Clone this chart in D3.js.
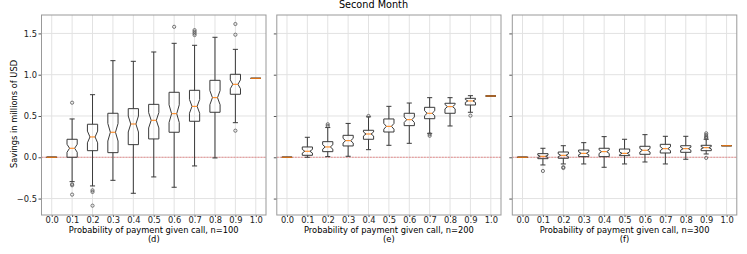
<!DOCTYPE html>
<html>
<head>
<meta charset="utf-8">
<script src="https://cdn.jsdelivr.net/npm/d3@7"></script>
<style>
  body { margin: 0; background: #fff; }
  svg { display: block; font-family: "DejaVu Sans", sans-serif; }
</style>
</head>
<body>
<div id="chart"></div>
<script>
/*---------- DATA ----------*/
// Categories (probability of payment given call)
const probs = ["0.0", "0.1", "0.2", "0.3", "0.4", "0.5", "0.6", "0.7", "0.8", "0.9", "1.0"];
const yTicks = [-0.5, 0.0, 0.5, 1.0, 1.5];

// Panel (d), n=100
const q1D = [0, 0.0, 0.08, 0.056, 0.153, 0.222, 0.303, 0.436, 0.545, 0.763, 0.956];
const medD = [0, 0.109, 0.246, 0.303, 0.403, 0.448, 0.528, 0.617, 0.722, 0.884, 0.956];
const q3D = [0, 0.218, 0.40, 0.533, 0.589, 0.641, 0.787, 0.811, 0.932, 1.005, 0.956];
const loD = [0, -0.295, -0.347, -0.279, -0.436, -0.238, -0.363, -0.105, -0.008, 0.419, 0.956];
const hiD = [0, 0.464, 0.758, 1.17, 1.162, 1.275, 1.38, 1.356, 1.453, 1.307, 0.956];
const outD = [[], [0.661, -0.327, -0.339, -0.452], [-0.40, -0.42, -0.586], [], [], [],
  [1.58], [1.54, 1.52, 1.50, 1.48], [], [1.614, 1.484, 0.322], []];

// Panel (e), n=200
const q1E = [0, 0.024, 0.068, 0.137, 0.218, 0.306, 0.383, 0.467, 0.533, 0.633, 0.742];
const medE = [0, 0.073, 0.125, 0.201, 0.282, 0.375, 0.455, 0.533, 0.613, 0.682, 0.742];
const q3E = [0, 0.125, 0.189, 0.266, 0.327, 0.464, 0.533, 0.605, 0.654, 0.714, 0.742];
const loE = [0, 0.0, 0.008, 0.012, 0.092, 0.145, 0.169, 0.29, 0.379, 0.545, 0.742];
const hiE = [0, 0.242, 0.36, 0.41, 0.49, 0.617, 0.657, 0.722, 0.722, 0.746, 0.742];
const outE = [[], [], [0.38, 0.40], [], [0.50], [], [], [0.28, 0.26], [], [0.504], []];

// Panel (f), n=300
const q1F = [0, -0.017, -0.012, 0.008, 0.008, 0.02, 0.036, 0.052, 0.06, 0.08, 0.14];
const medF = [0, 0.012, 0.024, 0.048, 0.068, 0.048, 0.085, 0.104, 0.104, 0.116, 0.14];
const q3F = [0, 0.044, 0.064, 0.088, 0.109, 0.1, 0.133, 0.157, 0.14, 0.145, 0.14];
const loF = [0, -0.093, -0.081, -0.081, -0.121, -0.081, -0.057, -0.081, -0.024, 0.04, 0.14];
const hiF = [0, 0.109, 0.14, 0.177, 0.25, 0.218, 0.274, 0.254, 0.254, 0.218, 0.14];
const outF = [[], [-0.166], [-0.12, -0.13], [], [], [], [], [], [],
  [0.29, 0.27, 0.25, 0.24, 0.23, -0.008], []];

const runs = 50; // simulation runs per box, used for the notch size

/*---------- SETUP ----------*/
const width = 747;
const height = 254;
const fontSize = "8.3px";

const panels = [
  { x0: 41.5, x1: 266, label: "Probability of payment given call, n=100", tag: "(d)",
    q1: q1D, med: medD, q3: q3D, lo: loD, hi: hiD, out: outD, yLabels: true },
  { x0: 276.8, x1: 501, label: "Probability of payment given call, n=200", tag: "(e)",
    q1: q1E, med: medE, q3: q3E, lo: loE, hi: hiE, out: outE, yLabels: false },
  { x0: 512.3, x1: 736.8, label: "Probability of payment given call, n=300", tag: "(f)",
    q1: q1F, med: medF, q3: q3F, lo: loF, hi: hiF, out: outF, yLabels: false },
];

const plotTop = 15;
const plotBottom = 215;

const svg = d3
  .select("#chart")
  .append("svg")
  .attr("width", width)
  .attr("height", height);

// Shared y scale
const y = d3.scaleLinear().domain([-0.699, 1.723]).range([plotBottom, plotTop]);

// Suptitle
svg
  .append("text")
  .attr("x", width / 2)
  .attr("y", 8)
  .attr("text-anchor", "middle")
  .attr("font-size", "9.7px")
  .text("Second Month");

// Y axis label
svg
  .append("text")
  .attr("transform", `translate(16.5, ${(plotTop + plotBottom) / 2 - 1}) rotate(-90)`)
  .attr("text-anchor", "middle")
  .attr("font-size", fontSize)
  .text("Savings in millions of USD");

/*---------- PLOTTING ----------*/
panels.forEach((p) => {
  const x = d3
    .scaleLinear()
    .domain([0.5, probs.length + 0.5])
    .range([p.x0, p.x1]);
  const step = x(2) - x(1);
  const boxW = step * 0.5;
  const capW = step * 0.25;

  const g = svg.append("g");

  // Grid lines
  g.selectAll("line.vgrid")
    .data(probs)
    .join("line")
    .attr("class", "vgrid")
    .attr("x1", (d, i) => x(i + 1))
    .attr("x2", (d, i) => x(i + 1))
    .attr("y1", plotTop)
    .attr("y2", plotBottom)
    .attr("stroke", "#e2e2e2")
    .attr("stroke-width", 1);

  g.selectAll("line.hgrid")
    .data(yTicks)
    .join("line")
    .attr("class", "hgrid")
    .attr("x1", p.x0)
    .attr("x2", p.x1)
    .attr("y1", (d) => y(d))
    .attr("y2", (d) => y(d))
    .attr("stroke", "#e2e2e2")
    .attr("stroke-width", 1);

  // Zero line
  g.append("line")
    .attr("x1", p.x0)
    .attr("x2", p.x1)
    .attr("y1", y(0))
    .attr("y2", y(0))
    .attr("stroke", "#e03030")
    .attr("stroke-width", 0.5)
    .attr("stroke-dasharray", "2,1");

  // Axes
  const xAxis = d3
    .axisBottom(x)
    .tickValues(d3.range(1, probs.length + 1))
    .tickFormat((d) => probs[d - 1])
    .tickSize(2)
    .tickSizeOuter(0);
  const xa = g
    .append("g")
    .attr("transform", `translate(0, ${plotBottom})`)
    .call(xAxis);
  xa.select(".domain").remove();
  xa.selectAll("line").attr("stroke", "#555");
  xa.selectAll("text")
    .attr("font-size", fontSize)
    .attr("font-family", "DejaVu Sans")
    .attr("fill", "#222")
    .attr("dy", null)
    .attr("y", 8.3);

  const yAxis = d3
    .axisLeft(y)
    .tickValues(yTicks)
    .tickFormat((d) => (p.yLabels ? d3.format(".1f")(d).replace("-", "\u2212") : ""))
    .tickSize(3)
    .tickSizeOuter(0);
  const ya = g
    .append("g")
    .attr("transform", `translate(${p.x0}, 0)`)
    .call(yAxis);
  ya.select(".domain").remove();
  ya.selectAll("line").attr("stroke", "#555");
  ya.selectAll("text")
    .attr("font-size", fontSize)
    .attr("font-family", "DejaVu Sans")
    .attr("fill", "#222")
    .attr("x", -4.5);

  // Boxes
  const boxes = probs.map((c, i) => {
    const iqr = p.q3[i] - p.q1[i];
    const nh = (1.57 * iqr) / Math.sqrt(runs);
    return {
      pos: i + 1,
      q1: p.q1[i],
      med: p.med[i],
      q3: p.q3[i],
      lo: p.lo[i],
      hi: p.hi[i],
      nlo: p.med[i] - nh,
      nhi: p.med[i] + nh,
      out: p.out[i],
    };
  });

  const bg = g
    .selectAll("g.box")
    .data(boxes)
    .join("g")
    .attr("class", "box");

  // whiskers
  bg.append("line")
    .attr("x1", (d) => x(d.pos))
    .attr("x2", (d) => x(d.pos))
    .attr("y1", (d) => y(d.q1))
    .attr("y2", (d) => y(d.lo))
    .attr("stroke", "#3a3a3a")
    .attr("stroke-width", 1);
  bg.append("line")
    .attr("x1", (d) => x(d.pos))
    .attr("x2", (d) => x(d.pos))
    .attr("y1", (d) => y(d.q3))
    .attr("y2", (d) => y(d.hi))
    .attr("stroke", "#3a3a3a")
    .attr("stroke-width", 1);

  // caps
  ["lo", "hi"].forEach((k) => {
    bg.append("line")
      .attr("x1", (d) => x(d.pos) - capW / 2)
      .attr("x2", (d) => x(d.pos) + capW / 2)
      .attr("y1", (d) => y(d[k]))
      .attr("y2", (d) => y(d[k]))
      .attr("stroke", "#3a3a3a")
      .attr("stroke-width", 1);
  });

  // notched box
  bg.append("path")
    .attr("d", (d) => {
      const l = x(d.pos) - boxW / 2;
      const r = x(d.pos) + boxW / 2;
      const cl = x(d.pos) - boxW / 4;
      const cr = x(d.pos) + boxW / 4;
      return d3.line()([
        [l, y(d.q1)],
        [r, y(d.q1)],
        [r, y(d.nlo)],
        [cr, y(d.med)],
        [r, y(d.nhi)],
        [r, y(d.q3)],
        [l, y(d.q3)],
        [l, y(d.nhi)],
        [cl, y(d.med)],
        [l, y(d.nlo)],
      ]) + "Z";
    })
    .attr("fill", "none")
    .attr("stroke", "#3a3a3a")
    .attr("stroke-width", 1);

  // median
  bg.append("line")
    .attr("x1", (d) => x(d.pos) - (d.q3 === d.q1 ? boxW / 2 : boxW / 4))
    .attr("x2", (d) => x(d.pos) + (d.q3 === d.q1 ? boxW / 2 : boxW / 4))
    .attr("y1", (d) => y(d.med))
    .attr("y2", (d) => y(d.med))
    .attr("stroke", "#ff7f0e")
    .attr("stroke-width", 1);

  // fliers
  bg.selectAll("circle")
    .data((d) => d.out.map((v) => ({ pos: d.pos, v: v })))
    .join("circle")
    .attr("cx", (d) => x(d.pos))
    .attr("cy", (d) => y(d.v))
    .attr("r", 1.6)
    .attr("fill", "none")
    .attr("stroke", "#555")
    .attr("stroke-width", 0.8);

  // Frame
  g.append("rect")
    .attr("x", p.x0)
    .attr("y", plotTop)
    .attr("width", p.x1 - p.x0)
    .attr("height", plotBottom - plotTop)
    .attr("fill", "none")
    .attr("stroke", "#999")
    .attr("stroke-width", 1);

  // X label and panel tag
  const cx = (p.x0 + p.x1) / 2;
  g.append("text")
    .attr("x", cx)
    .attr("y", 232.7)
    .attr("text-anchor", "middle")
    .attr("font-size", fontSize)
    .text(p.label);
  g.append("text")
    .attr("x", cx)
    .attr("y", 242)
    .attr("text-anchor", "middle")
    .attr("font-size", fontSize)
    .text(p.tag);
});
</script>
</body>
</html>
